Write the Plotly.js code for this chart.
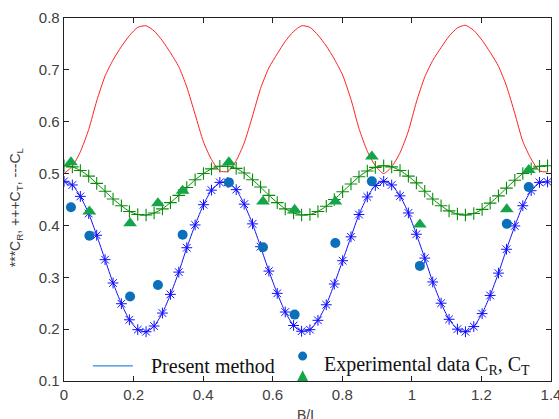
<!DOCTYPE html>
<html>
<head>
<meta charset="utf-8">
<script src="https://cdn.plot.ly/plotly-3.0.1.min.js"></script>
<style>
  html, body { margin: 0; padding: 0; background: #fff; }
  #chart { width: 559px; height: 419px; }
</style>
</head>
<body>
<div id="chart"></div>
<script>
// B/L sample positions shared by the three computed curves
const bl = [
  0.000, 0.024, 0.047, 0.071, 0.094, 0.118, 0.141, 0.165, 0.188, 0.212,
  0.236, 0.259, 0.283, 0.306, 0.330, 0.353, 0.377, 0.401, 0.424, 0.448,
  0.471, 0.495, 0.518, 0.542, 0.565, 0.589, 0.613, 0.636, 0.660, 0.683,
  0.707, 0.730, 0.754, 0.777, 0.801, 0.825, 0.848, 0.872, 0.895, 0.919,
  0.942, 0.966, 0.990, 1.013, 1.037, 1.060, 1.084, 1.107, 1.131, 1.154,
  1.178, 1.202, 1.225, 1.249, 1.272, 1.296, 1.319, 1.343, 1.367, 1.390
];

// Reflection coefficient C_R (present method)
const cR = [
  0.485, 0.478, 0.456, 0.423, 0.381, 0.334, 0.289, 0.249, 0.218, 0.199,
  0.195, 0.206, 0.231, 0.267, 0.310, 0.357, 0.401, 0.440, 0.468, 0.483,
  0.483, 0.469, 0.441, 0.403, 0.359, 0.312, 0.269, 0.233, 0.207, 0.196,
  0.199, 0.217, 0.247, 0.287, 0.332, 0.378, 0.421, 0.455, 0.477, 0.485,
  0.478, 0.457, 0.424, 0.383, 0.337, 0.291, 0.250, 0.219, 0.200, 0.195,
  0.205, 0.230, 0.265, 0.308, 0.354, 0.399, 0.438, 0.467, 0.483, 0.484
];

// Transmission coefficient C_T (present method)
const cT = [
  0.515, 0.513, 0.506, 0.495, 0.481, 0.466, 0.451, 0.438, 0.427, 0.421,
  0.420, 0.424, 0.432, 0.444, 0.458, 0.473, 0.488, 0.500, 0.509, 0.514,
  0.514, 0.510, 0.501, 0.488, 0.474, 0.458, 0.444, 0.432, 0.424, 0.420,
  0.421, 0.427, 0.437, 0.450, 0.465, 0.480, 0.494, 0.505, 0.512, 0.515,
  0.513, 0.506, 0.495, 0.482, 0.466, 0.451, 0.438, 0.428, 0.422, 0.420,
  0.423, 0.431, 0.443, 0.457, 0.472, 0.487, 0.500, 0.509, 0.514, 0.515
];

// Loss coefficient C_L (present method)
const cL = [
  0.500, 0.514, 0.542, 0.585, 0.640, 0.688, 0.719, 0.745, 0.766, 0.782,
  0.785, 0.775, 0.756, 0.733, 0.706, 0.667, 0.614, 0.561, 0.527, 0.505,
  0.504, 0.525, 0.559, 0.611, 0.664, 0.704, 0.731, 0.755, 0.774, 0.785,
  0.782, 0.767, 0.746, 0.721, 0.690, 0.643, 0.587, 0.543, 0.515, 0.500,
  0.513, 0.540, 0.582, 0.638, 0.686, 0.718, 0.743, 0.765, 0.781, 0.786,
  0.776, 0.757, 0.734, 0.707, 0.669, 0.616, 0.562, 0.528, 0.505, 0.503
];

// Experimental measurements
const expBL = [0.020, 0.073, 0.190, 0.270, 0.341, 0.474, 0.572, 0.663, 0.780, 0.885, 1.023, 1.273, 1.336];
const expCR = [0.435, 0.380, 0.263, 0.285, 0.382, 0.483, 0.358, 0.228, 0.366, 0.485, 0.322, 0.403, 0.474];
const expCT = [0.522, 0.427, 0.404, 0.443, 0.467, 0.522, 0.446, 0.430, 0.446, 0.533, 0.402, 0.431, 0.507];

const xTicks = [0, 0.2, 0.4, 0.6, 0.8, 1, 1.2, 1.4];
const yTicks = [0.1, 0.2, 0.3, 0.4, 0.5, 0.6, 0.7, 0.8];

const traces = [
  {
    x: bl, y: cL, type: 'scatter', mode: 'lines', name: 'C_L',
    line: { color: '#ff2020', width: 1, shape: 'spline', smoothing: 0.6 },
    showlegend: false
  },
  {
    x: bl, y: cT, type: 'scatter', mode: 'lines+markers', name: 'C_T',
    line: { color: '#0a8a0a', width: 1, shape: 'spline', smoothing: 0.6 },
    marker: { symbol: 'cross-thin-open', size: 9, line: { color: '#0a7a0a', width: 1.1 } },
    showlegend: false
  },
  {
    x: bl, y: cR, type: 'scatter', mode: 'lines+markers', name: 'C_R',
    line: { color: '#1010ff', width: 1, shape: 'spline', smoothing: 0.6 },
    marker: { symbol: 'asterisk-open', size: 9, line: { color: '#0000ff', width: 1 } },
    showlegend: false
  },
  {
    x: expBL, y: expCR, type: 'scatter', mode: 'markers', name: 'Exp C_R',
    marker: { symbol: 'circle', size: 10, color: '#0b6fba' },
    showlegend: false
  },
  {
    x: expBL, y: expCT, type: 'scatter', mode: 'markers', name: 'Exp C_T',
    marker: { symbol: 'triangle-up', size: 12, color: '#14a548' },
    showlegend: false
  }
];

const serif = 'Liberation Serif, Times New Roman, serif';
const sans = 'Liberation Sans, Arial, sans-serif';

const layout = {
  width: 559,
  height: 419,
  margin: { l: 64, r: 8, t: 18, b: 38 },
  paper_bgcolor: '#ffffff',
  plot_bgcolor: '#ffffff',
  font: { family: sans, size: 15, color: '#404040' },
  xaxis: {
    range: [0, 1.4],
    tickvals: xTicks,
    ticktext: xTicks.map(String),
    ticklabeloverflow: 'allow',
    ticks: 'inside', ticklen: 5, tickwidth: 1.2, tickcolor: '#222',
    showline: true, linecolor: '#222', linewidth: 1.3, mirror: 'ticks',
    showgrid: false, zeroline: false,
    tickfont: { family: sans, size: 15, color: '#404040' }
  },
  yaxis: {
    range: [0.1, 0.8],
    tickvals: yTicks,
    ticktext: yTicks.map(String),
    ticks: 'inside', ticklen: 5, tickwidth: 1.2, tickcolor: '#222',
    showline: true, linecolor: '#222', linewidth: 1.3, mirror: 'ticks',
    showgrid: false, zeroline: false,
    tickfont: { family: sans, size: 15, color: '#404040' }
  },
  shapes: [
    // legend sample: model line
    { type: 'line', xref: 'x', yref: 'y', x0: 0.083, x1: 0.198, y0: 0.129, y1: 0.129,
      line: { color: '#2b8ce6', width: 1.3 }, layer: 'above' },
    // legend sample: experimental circle
    { type: 'circle', xref: 'x', yref: 'y', x0: 0.673, x1: 0.699, y0: 0.1393, y1: 0.1567,
      fillcolor: '#0b6fba', line: { width: 0 }, layer: 'above' },
    // legend sample: experimental triangle
    { type: 'path', xref: 'x', yref: 'y', path: 'M 0.670 0.0995 L 0.702 0.0995 L 0.686 0.1205 Z',
      fillcolor: '#14a548', line: { width: 0 }, layer: 'above' }
  ],
  annotations: [
    // axis titles
    { xref: 'paper', yref: 'paper', x: 0.5, y: -0.094, xanchor: 'center', yanchor: 'middle',
      text: 'B/L', showarrow: false,
      font: { family: sans, size: 14, color: '#404040' } },
    { xref: 'paper', yref: 'paper', x: -0.097, y: 0.478, xanchor: 'center', yanchor: 'middle',
      textangle: -90, text: '***C<sub>R</sub>, +++C<sub>T</sub>, ---C<sub>L</sub>', showarrow: false,
      font: { family: sans, size: 14, color: '#404040' } },
    // legend entries
    { xref: 'x', yref: 'y', x: 0.245, y: 0.129, xanchor: 'left', yanchor: 'middle',
      text: 'Present method', showarrow: false,
      font: { family: serif, size: 20, color: '#111' } },
    { xref: 'x', yref: 'y', x: 0.741, y: 0.129, xanchor: 'left', yanchor: 'middle',
      text: 'Experimental data C<sub>R</sub>, C<sub>T</sub>', showarrow: false,
      font: { family: serif, size: 20, color: '#111' } }
  ]
};

Plotly.newPlot('chart', traces, layout, { displayModeBar: false, staticPlot: true });
</script>
</body>
</html>
